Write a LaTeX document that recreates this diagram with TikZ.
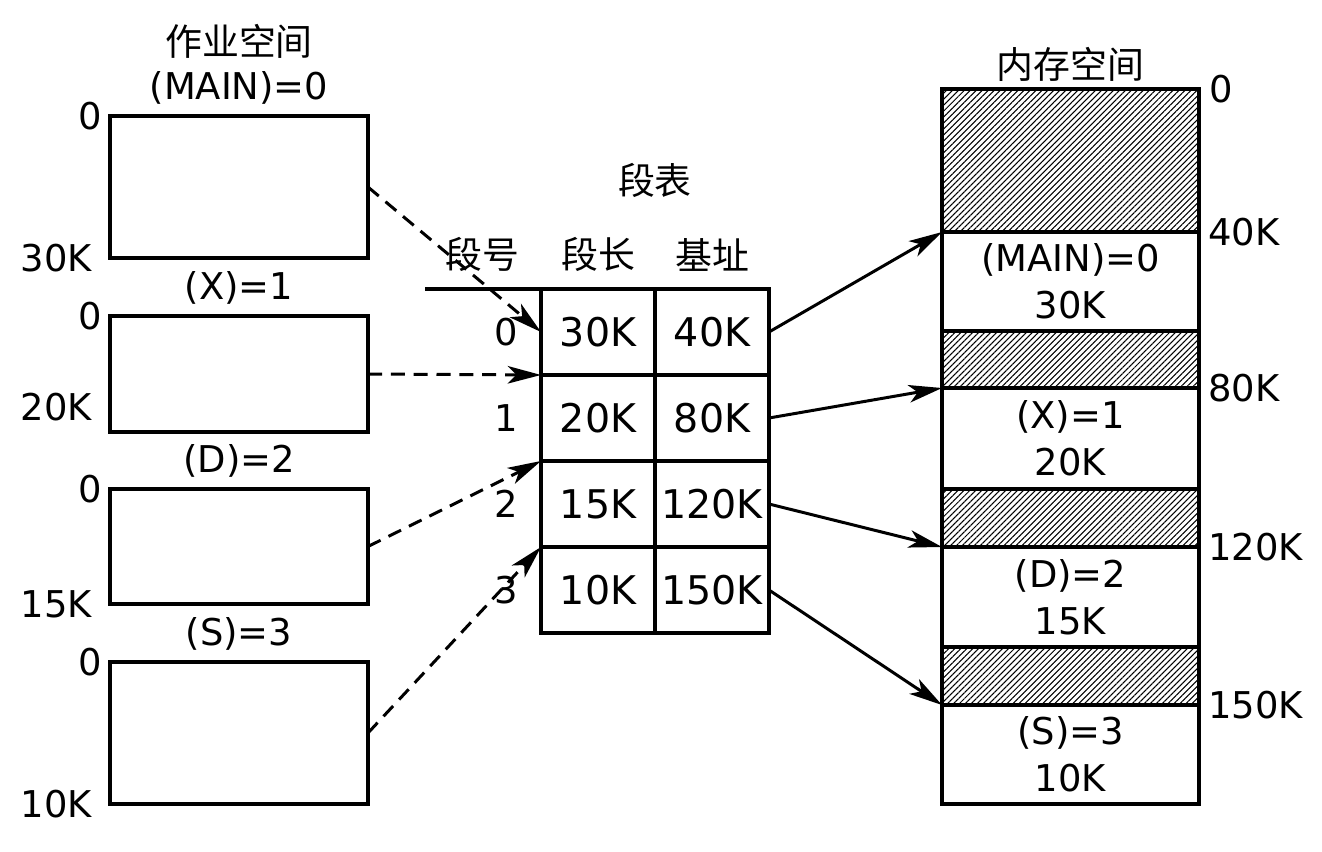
\documentclass[tikz,border=0pt]{standalone}
\usepackage{fontspec}
\setmainfont{DejaVu Sans}
\newfontfamily\cjk{Noto Sans CJK SC}
\usetikzlibrary{arrows.meta,positioning,patterns.meta}
\tikzset{
  basic/.style  = {draw, line width=2pt, inner sep=0pt, outer sep=0pt,
                   font=\fontsize{21}{27}\selectfont},
  jobbox/.style = {basic, minimum width=5.16cm},
  cell/.style   = {basic, minimum width=2.28cm, minimum height=1.72cm,
                   font=\fontsize{22.5}{27}\selectfont},
  used/.style   = {basic, minimum width=5.14cm,
                   pattern={Lines[angle=45,distance=2.4pt,line width=0.6pt]}},
  seg/.style    = {basic, minimum width=5.14cm, align=center},
  lbl/.style    = {font=\fontsize{21}{27}\selectfont, inner sep=1pt},
  zh/.style     = {font=\fontsize{21}{27}\selectfont\cjk, inner sep=1pt},
  map/.style    = {-{Stealth[length=19pt,width=10pt,inset=5pt]}, line width=1.7pt},
  link/.style   = {map, dash pattern=on 8pt off 5pt}
}

\begin{document}
\begin{tikzpicture}[x=0.02cm, y=-0.02cm]
  \useasboundingbox (0,0) rectangle (1322,852);

  % job spaces on the left, one box per segment
  \foreach \i/\yc/\h/\seg/\len/\ys in {0/187/2.84/{(MAIN)=0}/30K/0,
      1/374/2.32/{(X)=1}/20K/0.5, 2/546.5/2.30/{(D)=2}/15K/0,
      3/733/2.84/{(S)=3}/10K/0}{
    \node[jobbox, minimum height=\h cm] (job\i) at (239,\yc) {};
    \node[lbl, above=0.2cm of job\i] (jobname\i) {\seg};
    \node[lbl, anchor=east] (jobtop\i) at ([xshift=-0.12cm]job\i.north west) {0};
    \node[lbl, anchor=east] (jobend\i) at ([xshift=-0.32cm,yshift=\ys cm]job\i.south west) {\len};
  }
  \node[zh, above=0.17cm of jobname0] (jobtitle) {作业空间};

  % segment table
  \foreach \r/\len/\base in {0/30K/40K, 1/20K/80K, 2/15K/120K, 3/10K/150K}{
    \node[cell] (len\r) at (598,332+86*\r) {\len};
    \node[cell] (base\r) at (712,332+86*\r) {\base};
    \node[lbl, anchor=east] (no\r) at ([xshift=-0.42cm]len\r.west) {\r};
  }
  \node[zh, above=0.3cm of len0] (hlen) {段长};
  \node[zh, above=0.3cm of base0] (hbase) {基址};
  \node[zh, left=0.75cm of hlen] (hno) {段号};
  \node[zh, above=1.78cm of len0.north east] (tabtitle) {段表};
  \coordinate (hline) at ([xshift=-2.32cm]len0.north west);
  \draw[line width=2pt] (hline) -- (len0.north west);

  % memory, used (hatched) and loaded segments
  \foreach \i/\yc/\h in {0/160.5/2.86, 1/359.5/1.14, 2/518/1.16, 3/676/1.16}
    \node[used, minimum height=\h cm] (used\i) at (1070.5,\yc) {};
  \foreach \i/\yc/\h/\seg/\len in {0/281.5/1.98/{(MAIN)=0}/30K,
      1/438.5/2.02/{(X)=1}/20K, 2/597/2.0/{(D)=2}/15K, 3/754.5/1.98/{(S)=3}/10K}
    \node[seg, minimum height=\h cm] (mem\i) at (1070.5,\yc) {\seg\\\len};
  \node[zh, above=0.1cm of used0] (memtitle) {内存空间};
  \node[lbl, anchor=west] (addr) at ([xshift=0.16cm]used0.north east) {0};
  \foreach \i/\a in {0/40K, 1/80K, 2/120K, 3/150K}
    \node[lbl, anchor=west] (addr\i) at ([xshift=0.14cm]mem\i.north east) {\a};

  % job space -> table
  \draw[link] (job0.east) -- (len0.west);
  \draw[link] (job1.east) -- (len0.south west);
  \draw[link] (job2.east) -- (len1.south west);
  \draw[link] (job3.east) -- (len2.south west);

  % table -> memory
  \foreach \r in {0,1,2,3}
    \draw[map] (base\r.east) -- (mem\r.north west);
\end{tikzpicture}
\end{document}
